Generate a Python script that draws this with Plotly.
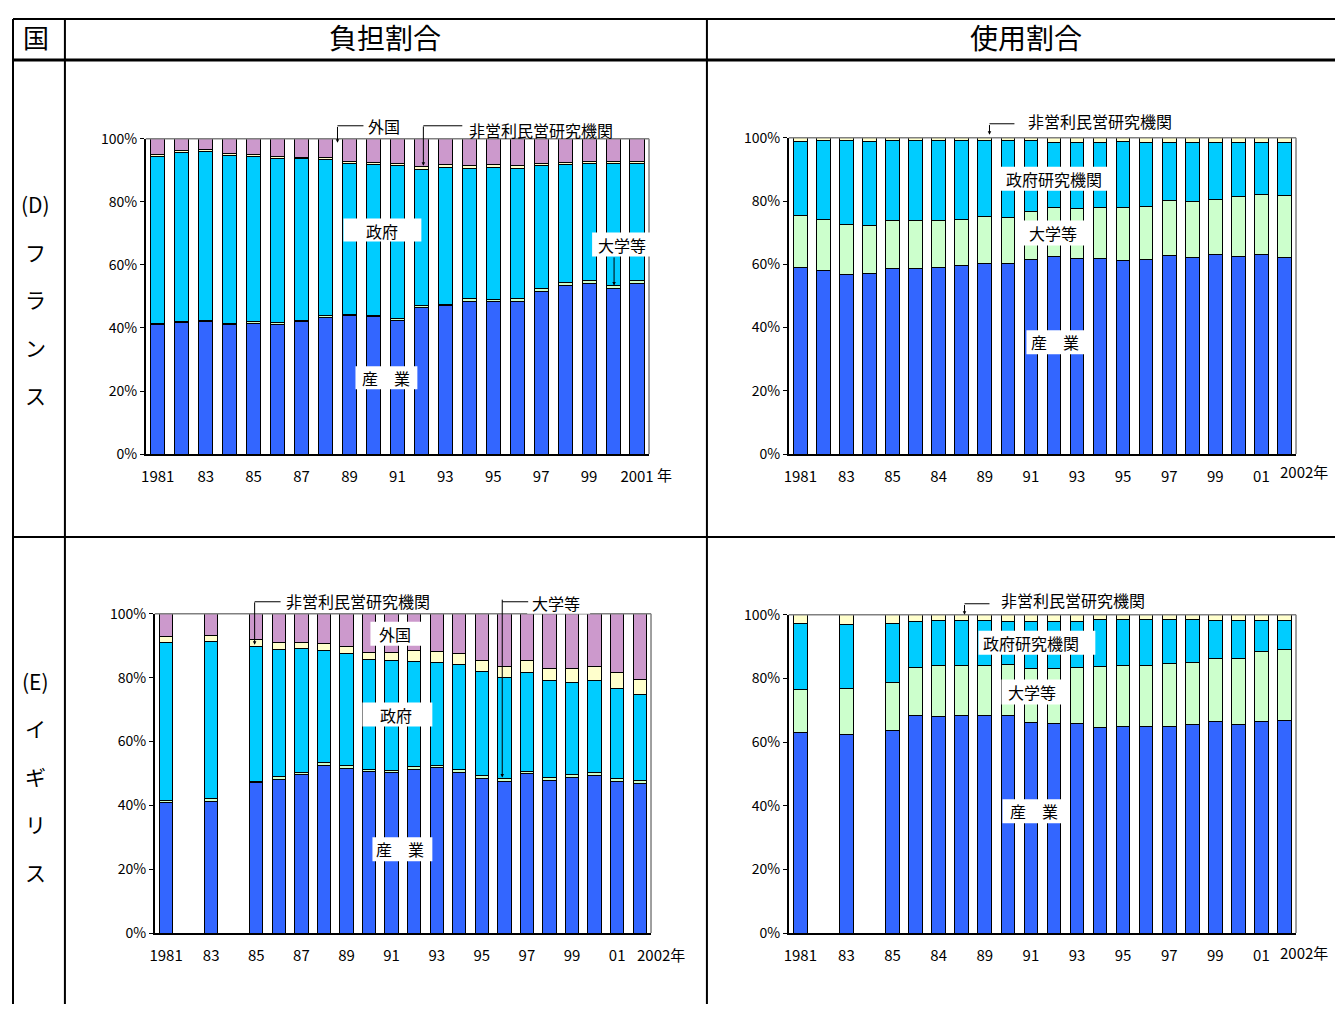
import plotly.graph_objects as go

# ---- data (percent shares, stacked bottom -> top) ----
fr_fund_years = [1981, 1982, 1983, 1984, 1985, 1986, 1987, 1988, 1989, 1990, 1991,
                 1992, 1993, 1994, 1995, 1996, 1997, 1998, 1999, 2000, 2001]
fr_fund_ind = [41.0, 41.7, 42.0, 41.1, 41.5, 41.2, 41.9, 43.4, 44.0, 43.6, 42.5,
               46.5, 47.0, 48.5, 48.3, 48.5, 51.6, 53.5, 54.1, 52.6, 54.1]
fr_fund_univ = [0.4, 0.4, 0.4, 0.4, 0.4, 0.4, 0.4, 0.4, 0.4, 0.4, 0.5,
                0.5, 0.5, 0.7, 0.7, 0.7, 0.8, 0.8, 0.8, 0.8, 0.8]
fr_fund_gov = [53.1, 53.6, 53.6, 53.3, 52.6, 52.2, 51.3, 49.5, 47.7, 47.9, 48.5,
               43.4, 43.4, 41.5, 41.9, 41.5, 39.0, 37.4, 37.1, 38.6, 37.1]
fr_fund_np = [0.6, 0.6, 0.6, 0.6, 0.6, 0.6, 0.6, 0.6, 0.7, 0.7, 0.7,
              0.9, 0.9, 0.9, 0.9, 0.9, 0.9, 0.9, 0.9, 0.9, 0.9]
fr_fund_for = [4.9, 3.7, 3.4, 4.6, 4.9, 5.6, 5.8, 6.1, 7.2, 7.4, 7.8,
               8.7, 8.2, 8.4, 8.2, 8.4, 7.7, 7.4, 7.1, 7.1, 7.1]

fr_use_years = [1981, 1982, 1983, 1984, 1985, 1986, 1987, 1988, 1989, 1990, 1991,
                1992, 1993, 1994, 1995, 1996, 1997, 1998, 1999, 2000, 2001, 2002]
fr_use_ind = [58.9, 57.9, 56.8, 57.1, 58.8, 58.8, 58.9, 59.5, 60.3, 60.3, 61.4,
              62.4, 61.7, 61.9, 61.1, 61.6, 62.7, 62.3, 63.2, 62.5, 63.2, 62.3]
fr_use_univ = [16.4, 16.1, 15.9, 15.3, 15.1, 14.9, 15.0, 14.8, 14.8, 14.5, 15.2,
               15.4, 15.9, 16.2, 16.7, 16.8, 17.4, 17.7, 17.3, 18.8, 19.0, 19.3]
fr_use_gov = [23.6, 25.2, 26.5, 26.5, 25.3, 25.5, 25.3, 24.9, 24.1, 24.4, 22.5,
              20.8, 21.0, 20.5, 21.0, 20.2, 18.5, 18.5, 18.0, 17.2, 16.3, 16.9]
fr_use_np = [1.1, 0.8, 0.8, 1.1, 0.8, 0.8, 0.8, 0.8, 0.8, 0.8, 0.9,
             1.4, 1.4, 1.4, 1.2, 1.4, 1.4, 1.5, 1.5, 1.5, 1.5, 1.5]

# UK has no figures for 1982 and 1984
uk_years = [1981, 1983, 1985, 1986, 1987, 1988, 1989, 1990, 1991, 1992,
            1993, 1994, 1995, 1996, 1997, 1998, 1999, 2000, 2001, 2002]
uk_fund_ind = [40.8, 41.2, 47.1, 48.2, 49.7, 52.5, 51.5, 50.7, 50.3, 51.2,
               51.7, 50.4, 48.3, 47.6, 49.9, 47.9, 48.8, 49.3, 47.5, 46.9]
uk_fund_univ = [0.8, 0.8, 0.5, 0.7, 0.7, 0.9, 0.9, 0.6, 0.6, 0.9,
                0.8, 0.8, 0.9, 0.8, 0.8, 0.7, 0.7, 0.9, 0.8, 0.8]
uk_fund_gov = [49.4, 49.2, 42.0, 39.9, 38.6, 35.1, 35.2, 34.3, 34.4, 32.9,
               32.1, 32.8, 32.8, 31.5, 30.8, 30.5, 28.9, 28.9, 28.4, 26.9]
uk_fund_np = [1.8, 2.0, 2.2, 2.1, 2.0, 2.1, 2.2, 2.4, 2.7, 3.5,
              3.6, 3.7, 3.5, 3.7, 3.9, 3.9, 4.3, 4.5, 4.9, 4.9]
uk_fund_for = [7.2, 6.8, 8.2, 9.2, 9.0, 9.4, 10.2, 12.0, 12.0, 11.5,
               11.8, 12.3, 14.5, 16.4, 14.6, 17.0, 17.3, 16.4, 18.4, 20.5]

uk_use_ind = [63.0, 62.4, 63.7, 68.4, 68.1, 68.2, 68.3, 68.5, 66.0, 65.8,
              65.9, 64.5, 64.9, 64.8, 65.0, 65.5, 66.6, 65.5, 66.6, 66.8]
uk_use_univ = [13.6, 14.4, 15.0, 15.1, 16.0, 16.0, 15.6, 16.0, 17.1, 17.3,
               17.5, 19.1, 19.1, 19.3, 19.8, 19.6, 19.6, 20.6, 21.8, 22.4]
uk_use_gov = [20.6, 20.2, 18.5, 14.3, 14.0, 13.9, 14.2, 13.4, 14.8, 14.9,
              14.6, 15.0, 14.4, 14.3, 13.6, 13.3, 12.1, 12.2, 9.9, 9.1]
uk_use_np = [2.8, 3.0, 2.8, 2.2, 1.9, 1.9, 1.9, 2.1, 2.1, 2.0,
             2.0, 1.4, 1.6, 1.6, 1.6, 1.6, 1.7, 1.7, 1.7, 1.7]

tick_years = [1981, 1983, 1985, 1987, 1989, 1991, 1993, 1995, 1997, 1999, 2001]
fr_fund_ticks = ['1981', '83', '85', '87', '89', '91', '93', '95', '97', '99', '2001']
uk_fund_ticks = ['1981', '83', '85', '87', '89', '91', '93', '95', '97', '99', '01']
use_ticks = ['1981', '83', '85', '84', '89', '91', '93', '95', '97', '99', '01']
pct_vals = [0, 20, 40, 60, 80, 100]
pct_ticks = ['0%', '20%', '40%', '60%', '80%', '100%']

C_IND = '#3366FF'
C_UNIV = '#CCFFCC'
C_GOV = '#00CCFF'
C_NP = '#FFFFCC'
C_FOR = '#CC99CC'

JP = 'Noto Sans CJK JP'

# positions below are given in pixels of the final picture; the figure
# lands in it shifted and slightly shrunk, so undo that here
W, H = 1327, 996
SX, BX = 0.994, 12
SY, BY = 0.982, 18


def px(x):
    return max((x - BX) / SX, 0) / W


def py(y):
    return 1 - max((y - BY) / SY, 0) / H


fig = go.Figure()
shapes = []
annotations = []

charts = [
    dict(s='', x0=145, x1=649, yt=138, yb=454, xr=[1980.5, 2001.5],
         years=fr_fund_years, ticks=fr_fund_ticks,
         series=[('産業', fr_fund_ind, C_IND), ('大学等', fr_fund_univ, C_UNIV),
                 ('政府', fr_fund_gov, C_GOV), ('非営利民営研究機関', fr_fund_np, C_NP),
                 ('外国', fr_fund_for, C_FOR)]),
    dict(s='2', x0=789, x1=1297, yt=137, yb=454, xr=[1980.5, 2002.5],
         years=fr_use_years, ticks=use_ticks,
         series=[('産業', fr_use_ind, C_IND), ('大学等', fr_use_univ, C_UNIV),
                 ('政府研究機関', fr_use_gov, C_GOV), ('非営利民営研究機関', fr_use_np, C_NP)]),
    dict(s='3', x0=154, x1=651, yt=614, yb=934, xr=[1980.5, 2002.5],
         years=uk_years, ticks=uk_fund_ticks,
         series=[('産業', uk_fund_ind, C_IND), ('大学等', uk_fund_univ, C_UNIV),
                 ('政府', uk_fund_gov, C_GOV), ('非営利民営研究機関', uk_fund_np, C_NP),
                 ('外国', uk_fund_for, C_FOR)]),
    dict(s='4', x0=789, x1=1297, yt=615, yb=934, xr=[1980.5, 2002.5],
         years=uk_years, ticks=use_ticks,
         series=[('産業', uk_use_ind, C_IND), ('大学等', uk_use_univ, C_UNIV),
                 ('政府研究機関', uk_use_gov, C_GOV), ('非営利民営研究機関', uk_use_np, C_NP)]),
]

axes = {}
for c in charts:
    s = c['s']
    for name, vals, color in c['series']:
        fig.add_trace(go.Bar(
            x=c['years'], y=vals, name=name,
            marker=dict(color=color, line=dict(color='black', width=1)),
            xaxis='x' + s, yaxis='y' + s, showlegend=False,
        ))
    axes['xaxis' + s] = dict(
        domain=[px(c['x0']), px(c['x1'])], range=c['xr'], anchor='y' + s,
        tickvals=tick_years, ticktext=c['ticks'], ticks='',
        showline=True, linecolor='black', linewidth=1.5,
        showgrid=False, zeroline=False, ticklabelstandoff=8,
        tickfont=dict(family=JP, size=15, color='black'),
    )
    axes['yaxis' + s] = dict(
        domain=[py(c['yb']), py(c['yt'])], range=[0, 100], anchor='x' + s,
        tickvals=pct_vals, ticktext=pct_ticks,
        ticks='outside', ticklen=4, tickcolor='black',
        showline=True, linecolor='black', linewidth=1.5,
        showgrid=False, zeroline=False,
        tickfont=dict(family=JP, size=14, color='black'),
    )
    # grey frame on top and right of the plot area
    shapes.append(dict(type='line', xref='paper', yref='paper',
                       x0=px(c['x0']), x1=px(c['x1']), y0=py(c['yt']), y1=py(c['yt']),
                       line=dict(color='#808080', width=1.5)))
    shapes.append(dict(type='line', xref='paper', yref='paper',
                       x0=px(c['x1']), x1=px(c['x1']), y0=py(c['yt']), y1=py(c['yb']),
                       line=dict(color='#808080', width=1.5)))


def hline(x0, x1, y, w=1):
    shapes.append(dict(type='line', xref='paper', yref='paper',
                       x0=px(x0), x1=px(x1), y0=py(y), y1=py(y),
                       line=dict(color='black', width=w)))


def vline(x, y0, y1, w=1):
    shapes.append(dict(type='line', xref='paper', yref='paper',
                       x0=px(x), x1=px(x), y0=py(y0), y1=py(y1),
                       line=dict(color='black', width=w)))


def box(x0, y0, x1, y1):
    shapes.append(dict(type='rect', xref='paper', yref='paper', layer='above',
                       x0=px(x0), x1=px(x1), y0=py(y1), y1=py(y0),
                       fillcolor='white', line=dict(width=0)))


def text(x, y, t, size=16):
    annotations.append(dict(x=px(x), y=py(y), xref='paper', yref='paper',
                            text=t, showarrow=False, xanchor='center', yanchor='middle',
                            font=dict(family=JP, size=size, color='black')))


def arrow(x, y_from, y_to):
    # tail sits (y_to - y_from) pixels above the tip
    annotations.append(dict(x=px(x), y=py(y_to), ax=0, ay=-(y_to - y_from) / SY,
                            xref='paper', yref='paper', axref='pixel', ayref='pixel',
                            text='', showarrow=True, arrowhead=2, arrowsize=0.7,
                            arrowwidth=1, arrowcolor='black', standoff=0, startstandoff=0))


# table frame
hline(8, 1343, 10, 2)
hline(8, 1343, 59, 3)
hline(8, 1343, 537, 2)
vline(8, 10, 1012, 2)
vline(64, 10, 1012, 2)
vline(707, 10, 1012, 2)

# header row
text(35, 36, '国', 26)
text(385, 36, '負担割合', 28)
text(1027, 36, '使用割合', 28)

# country column
for t, y in [('(D)', 203), ('フ', 251), ('ラ', 299), ('ン', 347), ('ス', 395),
             ('(E)', 681), ('イ', 729), ('ギ', 777), ('リ', 825), ('ス', 873)]:
    text(35, y, t, 21)

# France - funding
text(384, 125, '外国')
hline(337, 363, 125)
arrow(337, 125, 142)
text(541, 129, '非営利民営研究機関')
hline(423, 462, 125)
arrow(423, 125, 165)
box(343, 218, 421, 241)
text(382, 230, '政府')
box(355, 366, 417, 389)
text(386, 378, '産　業')
box(592, 232, 651, 256)
text(622, 244, '大学等')
arrow(614, 256, 285)
text(665, 474, '年', 15)

# France - use
text(1101, 120, '非営利民営研究機関')
hline(990, 1015, 123)
arrow(990, 123, 134)
box(1001, 166, 1108, 190)
text(1055, 178, '政府研究機関')
box(1022, 220, 1088, 245)
text(1054, 232, '大学等')
box(1027, 330, 1086, 354)
text(1056, 342, '産　業')
text(1305, 471, '2002年', 15)

# UK - funding
text(358, 601, '非営利民営研究機関')
hline(254, 280, 602)
arrow(254, 602, 645)
box(370, 622, 421, 646)
text(395, 634, '外国')
box(362, 703, 432, 727)
text(396, 715, '政府')
box(527, 593, 590, 614)
text(556, 603, '大学等')
hline(502, 528, 602)
arrow(502, 602, 778)
box(372, 838, 432, 862)
text(400, 850, '産　業')
text(661, 955, '2002年', 15)

# UK - use
text(1074, 600, '非営利民営研究機関')
hline(965, 990, 604)
arrow(965, 604, 615)
box(979, 631, 1096, 655)
text(1032, 643, '政府研究機関')
box(1002, 680, 1063, 705)
text(1033, 692, '大学等')
box(1003, 800, 1065, 824)
text(1035, 812, '産　業')
text(1305, 953, '2002年', 15)

fig.update_layout(
    width=W, height=H,
    margin=dict(l=0, r=0, t=0, b=0),
    paper_bgcolor='white', plot_bgcolor='white',
    barmode='stack', bargap=0.41,
    font=dict(family=JP, color='black'),
    shapes=shapes, annotations=annotations,
    **axes,
)

fig.write_html("out.html")
